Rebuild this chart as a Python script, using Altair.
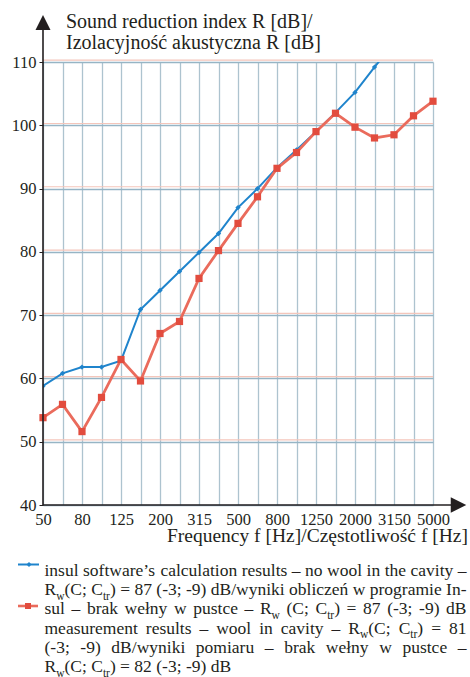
import re
import json
import altair as alt
import pandas as pd

# ---------------- data ----------------
freqs = ["50", "63", "80", "100", "125", "160", "200", "250", "315", "400", "500",
         "630", "800", "1000", "1250", "1600", "2000", "2500", "3150", "4000", "5000"]
shown_labels = ["50", "80", "125", "200", "315", "500", "800", "1250", "2000", "3150", "5000"]
insul = [58.8, 60.8, 61.8, 61.8, 62.8, 70.9, 73.9, 76.9, 79.9, 82.9, 87.0,
         90.0, 93.3, 96.1, 99.0, 102.0, 105.2, 109.2, 113.0, None, None]
measured = [53.8, 55.9, 51.6, 57.0, 63.0, 59.6, 67.1, 69.0, 75.8, 80.2, 84.5,
            88.7, 93.2, 95.7, 99.0, 101.9, 99.7, 98.0, 98.5, 101.5, 103.8]
y_ticks = [40, 50, 60, 70, 80, 90, 100, 110]

y_title_lines = ["Sound reduction index R [dB]/", "Izolacyjność akustyczna R [dB]"]
x_title = "Frequency f [Hz]/Częstotliwość f [Hz]"
legend_lines = [
    "insul software’s calculation results – no wool in the cavity –",
    "R_{w}(C; C_{tr}) = 87 (-3; -9) dB/wyniki obliczeń w programie In-",
    "sul – brak wełny w pustce – R_{w} (C; C_{tr}) = 87 (-3; -9) dB",
    "measurement results – wool in cavity – R_{w}(C; C_{tr}) = 81",
    "(-3; -9) dB/wyniki pomiaru – brak wełny w pustce –",
    "R_{w}(C; C_{tr}) = 82 (-3; -9) dB",
]

# ---------------- layout ----------------
FONT = "Liberation Serif"
INK = "#231f20"
BLUE = "#1f84cc"
RED_LINE = "#ea6b5c"
RED_PT = "#e24c3e"
L, T = 43, 62          # plot origin in page px
PW, PH = 390, 443      # plot size

# Times / Liberation Serif advance widths (em)
W = {" ": .25, "(": .333, ")": .333, "-": .333, ".": .25, "/": .278, ";": .278, ":": .278,
     "=": .564, "[": .333, "]": .333, "’": .333, "–": .5}
for d in "0123456789":
    W[d] = .5
W.update({"A": .722, "B": .667, "C": .667, "D": .722, "E": .611, "F": .556, "I": .333,
          "R": .667, "S": .556, "M": .889})
W.update({"a": .444, "b": .5, "c": .444, "d": .5, "e": .444, "f": .333, "g": .5, "h": .5,
          "i": .278, "j": .278, "k": .5, "l": .278, "m": .778, "n": .5, "o": .5, "p": .5,
          "q": .5, "r": .333, "s": .389, "t": .278, "u": .5, "v": .5, "w": .722, "x": .5,
          "y": .5, "z": .444, "ą": .444, "ę": .444, "ć": .444, "ł": .278, "ń": .5,
          "ó": .5, "ś": .389, "ź": .444, "ż": .444})


def tw(s, fs):
    return sum(W.get(c, .5) for c in s) * fs


def parse_token(tok):
    out = []
    for p in re.split(r"(_\{[^}]*\})", tok):
        if not p:
            continue
        if p.startswith("_{"):
            out.append((p[2:-1], True))
        else:
            out.append((p, False))
    return out


LEG_FS, SUB_FS, SUB_DY = 17.5, 11.5, 4.5
leg_left, leg_right = 44.5, 466.5
base0, step = 576.0, 19.2
rows = []
for i, line in enumerate(legend_lines):
    toks = [parse_token(t) for t in line.split(" ")]
    widths = [sum(tw(s, SUB_FS if sub else LEG_FS) for s, sub in tok) for tok in toks]
    if i == len(legend_lines) - 1:
        gap = W[" "] * LEG_FS
    else:
        gap = (leg_right - leg_left - sum(widths)) / (len(toks) - 1)
    x = leg_left
    y = base0 + i * step
    for tok, w in zip(toks, widths):
        for s, sub in tok:
            fs = SUB_FS if sub else LEG_FS
            rows.append({"x": x - L, "y": y + (SUB_DY if sub else 0) - T, "t": s, "s": fs})
            x += tw(s, fs)
        x += gap
legend_df = pd.DataFrame(rows)

df = pd.DataFrame({"freq": freqs, "insul": insul, "measured": measured})
blue_df = df[df["insul"].notna()]
one = pd.DataFrame({"a": [0]})

label_expr = ("indexof(" + json.dumps(shown_labels) +
              ", datum.label) >= 0 ? datum.label : ''")

x_enc = alt.X(
    "freq:N", sort=freqs,
    scale=alt.Scale(type="point", domain=freqs, padding=0),
    axis=alt.Axis(title=None, domain=False, ticks=False, grid=True,
                  gridColor="#adc3cf", gridWidth=1.3, labelAngle=0,
                  labelExpr=label_expr, labelFont=FONT, labelFontSize=16.5,
                  labelColor=INK, labelPadding=6),
)
y_axis = alt.Axis(title=None, domain=False, values=y_ticks, grid=True,
                  gridColor="#96b5c5", gridWidth=1.3, tickSize=4, tickColor=INK,
                  labelFont=FONT, labelFontSize=16.5, labelColor=INK, labelPadding=3)
y_scale = alt.Scale(domain=[40, 110], nice=False, zero=False)

pink = alt.Chart(pd.DataFrame({"v": y_ticks[1:]})).mark_rule(
    color="#f4c6bb", strokeWidth=1.2, yOffset=-1.8
).encode(y=alt.Y("v:Q", scale=y_scale, axis=y_axis))

blue_line = alt.Chart(blue_df).mark_line(color=BLUE, strokeWidth=2, clip=True).encode(
    x=x_enc, y=alt.Y("insul:Q", scale=y_scale, axis=y_axis))
blue_pts = alt.Chart(blue_df).mark_point(
    shape="diamond", filled=True, color=BLUE, size=28, opacity=1, clip=True
).encode(x=x_enc, y=alt.Y("insul:Q", scale=y_scale, axis=y_axis))

red_line = alt.Chart(df).mark_line(color=RED_LINE, strokeWidth=2.8).encode(
    x=x_enc, y=alt.Y("measured:Q", scale=y_scale, axis=y_axis))
red_pts = alt.Chart(df).mark_point(
    shape="square", filled=True, color=RED_PT, size=52, opacity=1
).encode(x=x_enc, y=alt.Y("measured:Q", scale=y_scale, axis=y_axis))

# axes lines with arrows
y_axis_line = alt.Chart(one).mark_rule(color=INK, strokeWidth=1.6).encode(
    x=alt.value(0), y=alt.value(-33), y2=alt.value(PH))
x_axis_line = alt.Chart(one).mark_rule(color=INK, strokeWidth=1.6).encode(
    x=alt.value(0), x2=alt.value(410), y=alt.value(PH))
y_arrow = alt.Chart(one).mark_point(
    shape="M-1,1L1,1L0,-1Z", filled=True, color=INK, size=225, opacity=1
).encode(x=alt.value(0), y=alt.value(-39.5))
x_arrow = alt.Chart(one).mark_point(
    shape="M-1,-1L1,0L-1,1Z", filled=True, color=INK, size=240, opacity=1
).encode(x=alt.value(415.5), y=alt.value(PH))

# titles
y_t1 = alt.Chart(one).mark_text(text=y_title_lines[0], font=FONT, fontSize=20, color=INK,
                                align="left", baseline="alphabetic").encode(
    x=alt.value(23), y=alt.value(28 - T))
y_t2 = alt.Chart(one).mark_text(text=y_title_lines[1], font=FONT, fontSize=20, color=INK,
                                align="left", baseline="alphabetic").encode(
    x=alt.value(23), y=alt.value(49 - T))
x_t = alt.Chart(one).mark_text(text=x_title, font=FONT, fontSize=19.5, color=INK,
                               align="right", baseline="alphabetic").encode(
    x=alt.value(468 - L), y=alt.value(541.5 - T))

# legend symbols
lb_line = alt.Chart(one).mark_rule(color=BLUE, strokeWidth=2).encode(
    x=alt.value(18 - L), x2=alt.value(39 - L), y=alt.value(564.5 - T))
lb_pt = alt.Chart(one).mark_point(shape="diamond", filled=True, color=BLUE, size=26,
                                  opacity=1).encode(x=alt.value(29 - L), y=alt.value(564.5 - T))
lr_line = alt.Chart(one).mark_rule(color=RED_LINE, strokeWidth=2.6).encode(
    x=alt.value(18 - L), x2=alt.value(38 - L), y=alt.value(606 - T))
lr_pt = alt.Chart(one).mark_point(shape="square", filled=True, color=RED_PT, size=36,
                                  opacity=1).encode(x=alt.value(28 - L), y=alt.value(606 - T))

legend_text = alt.Chart(legend_df).mark_text(
    font=FONT, color=INK, align="left", baseline="alphabetic"
).encode(
    x=alt.X("x:Q", scale=None, axis=None),
    y=alt.Y("y:Q", scale=None, axis=None),
    text="t:N",
    size=alt.Size("s:Q", scale=None, legend=None),
)

chart = alt.layer(
    pink, blue_line, red_line, blue_pts, red_pts,
    y_axis_line, x_axis_line, y_arrow, x_arrow,
    y_t1, y_t2, x_t, lb_line, lb_pt, lr_line, lr_pt, legend_text,
).properties(
    width=PW, height=PH,
    autosize=alt.AutoSizeParams(type="none"),
    padding={"left": L, "top": T, "right": 470 - L - PW, "bottom": 677 - T - PH},
    background="white",
).configure_view(stroke=None).configure_axis(
    labelFont=FONT, labelFontSize=16.5, labelColor=INK
)

chart.save("out.html", embed_options={"renderer": "svg", "actions": False})
